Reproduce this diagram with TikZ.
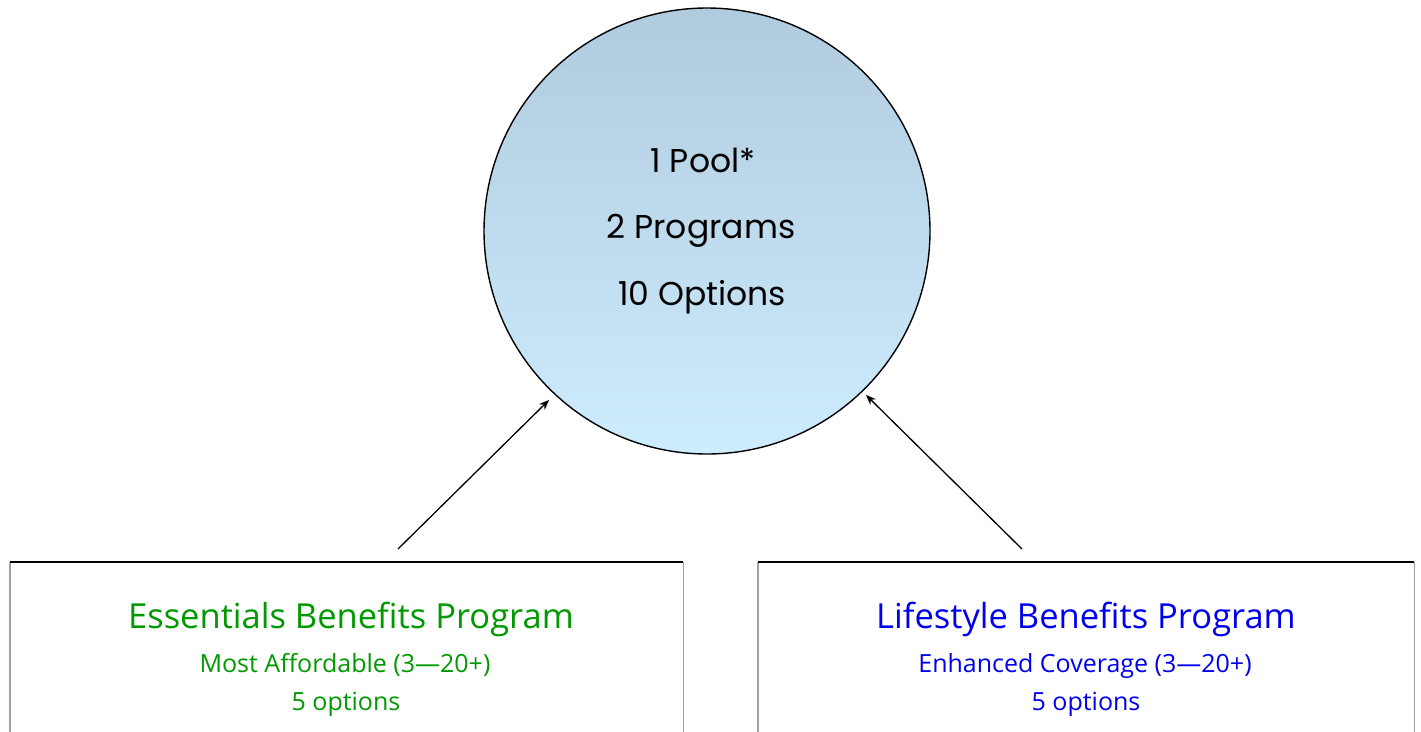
\documentclass[tikz,border=0pt]{standalone}
\usepackage{fontspec}
\setmainfont{Open Sans}
\newfontfamily\circfont{Poppins}
\usetikzlibrary{arrows.meta}
\definecolor{topblue}{RGB}{176,203,221}
\definecolor{botblue}{RGB}{205,236,254}
\definecolor{essgreen}{RGB}{0,153,0}
\definecolor{lifeblue}{RGB}{0,0,238}
\definecolor{sidegray}{RGB}{160,160,160}
\tikzset{
  poolstyle/.style={circle, draw=black, line width=1.4pt, minimum size=446pt, inner sep=0pt,
    top color=topblue, bottom color=botblue},
  circtext/.style={anchor=base, inner sep=0pt, font=\circfont\fontsize{33}{36}\selectfont},
  titletext/.style={anchor=base, inner sep=0pt, font=\fontsize{34.5}{38}\selectfont},
  subtext/.style={anchor=base, inner sep=0pt, font=\fontsize{25}{28}\selectfont},
  arr/.style={-{Stealth[length=10pt,width=8pt]}, line width=1.3pt},
}
\begin{document}
\begin{tikzpicture}[x=1pt,y=-1pt]
\useasboundingbox (0,0) rectangle (1421,731);
\clip (0,0) rectangle (1421,731);
% circle
\node[poolstyle] (pool) at (707,231) {};
\node[circtext] (t1) at (703,172) {1 Pool*};
\node[circtext] (t2) at (701,238) {2 Programs};
\node[circtext] (t3) at (702,305) {10 Options};
% boxes
\node[inner sep=0pt, minimum width=673pt, minimum height=190pt, anchor=north west] (ess) at (10,562) {};
\node[inner sep=0pt, minimum width=656pt, minimum height=190pt, anchor=north west] (life) at (758,562) {};
\draw[sidegray, line width=1.2pt] (ess.north west) -- (ess.south west) (ess.north east) -- (ess.south east);
\draw[black, line width=1.4pt] (ess.north west) -- (ess.north east);
\draw[sidegray, line width=1.2pt] (life.north west) -- (life.south west) (life.north east) -- (life.south east);
\draw[black, line width=1.4pt] (life.north west) -- (life.north east);
% box texts
\node[titletext, essgreen] (e1) at (351,628) {Essentials Benefits Program};
\node[subtext, essgreen] (e2) at (345,672) {Most Affordable (3---20+)};
\node[subtext, essgreen] (e3) at (346,710) {5 options};
\node[titletext, lifeblue] (l1) at (1086,628) {Lifestyle Benefits Program};
\node[subtext, lifeblue] (l2) at (1085,672) {Enhanced Coverage (3---20+)};
\node[subtext, lifeblue] (l3) at (1086,710) {5 options};
% arrows
\coordinate (s1) at (398,549);
\coordinate (e1tip) at (549,400);
\coordinate (s2) at (1022,549);
\coordinate (e2tip) at (866,395);
\draw[arr] (s1) -- (e1tip);
\draw[arr] (s2) -- (e2tip);
\end{tikzpicture}
\end{document}
